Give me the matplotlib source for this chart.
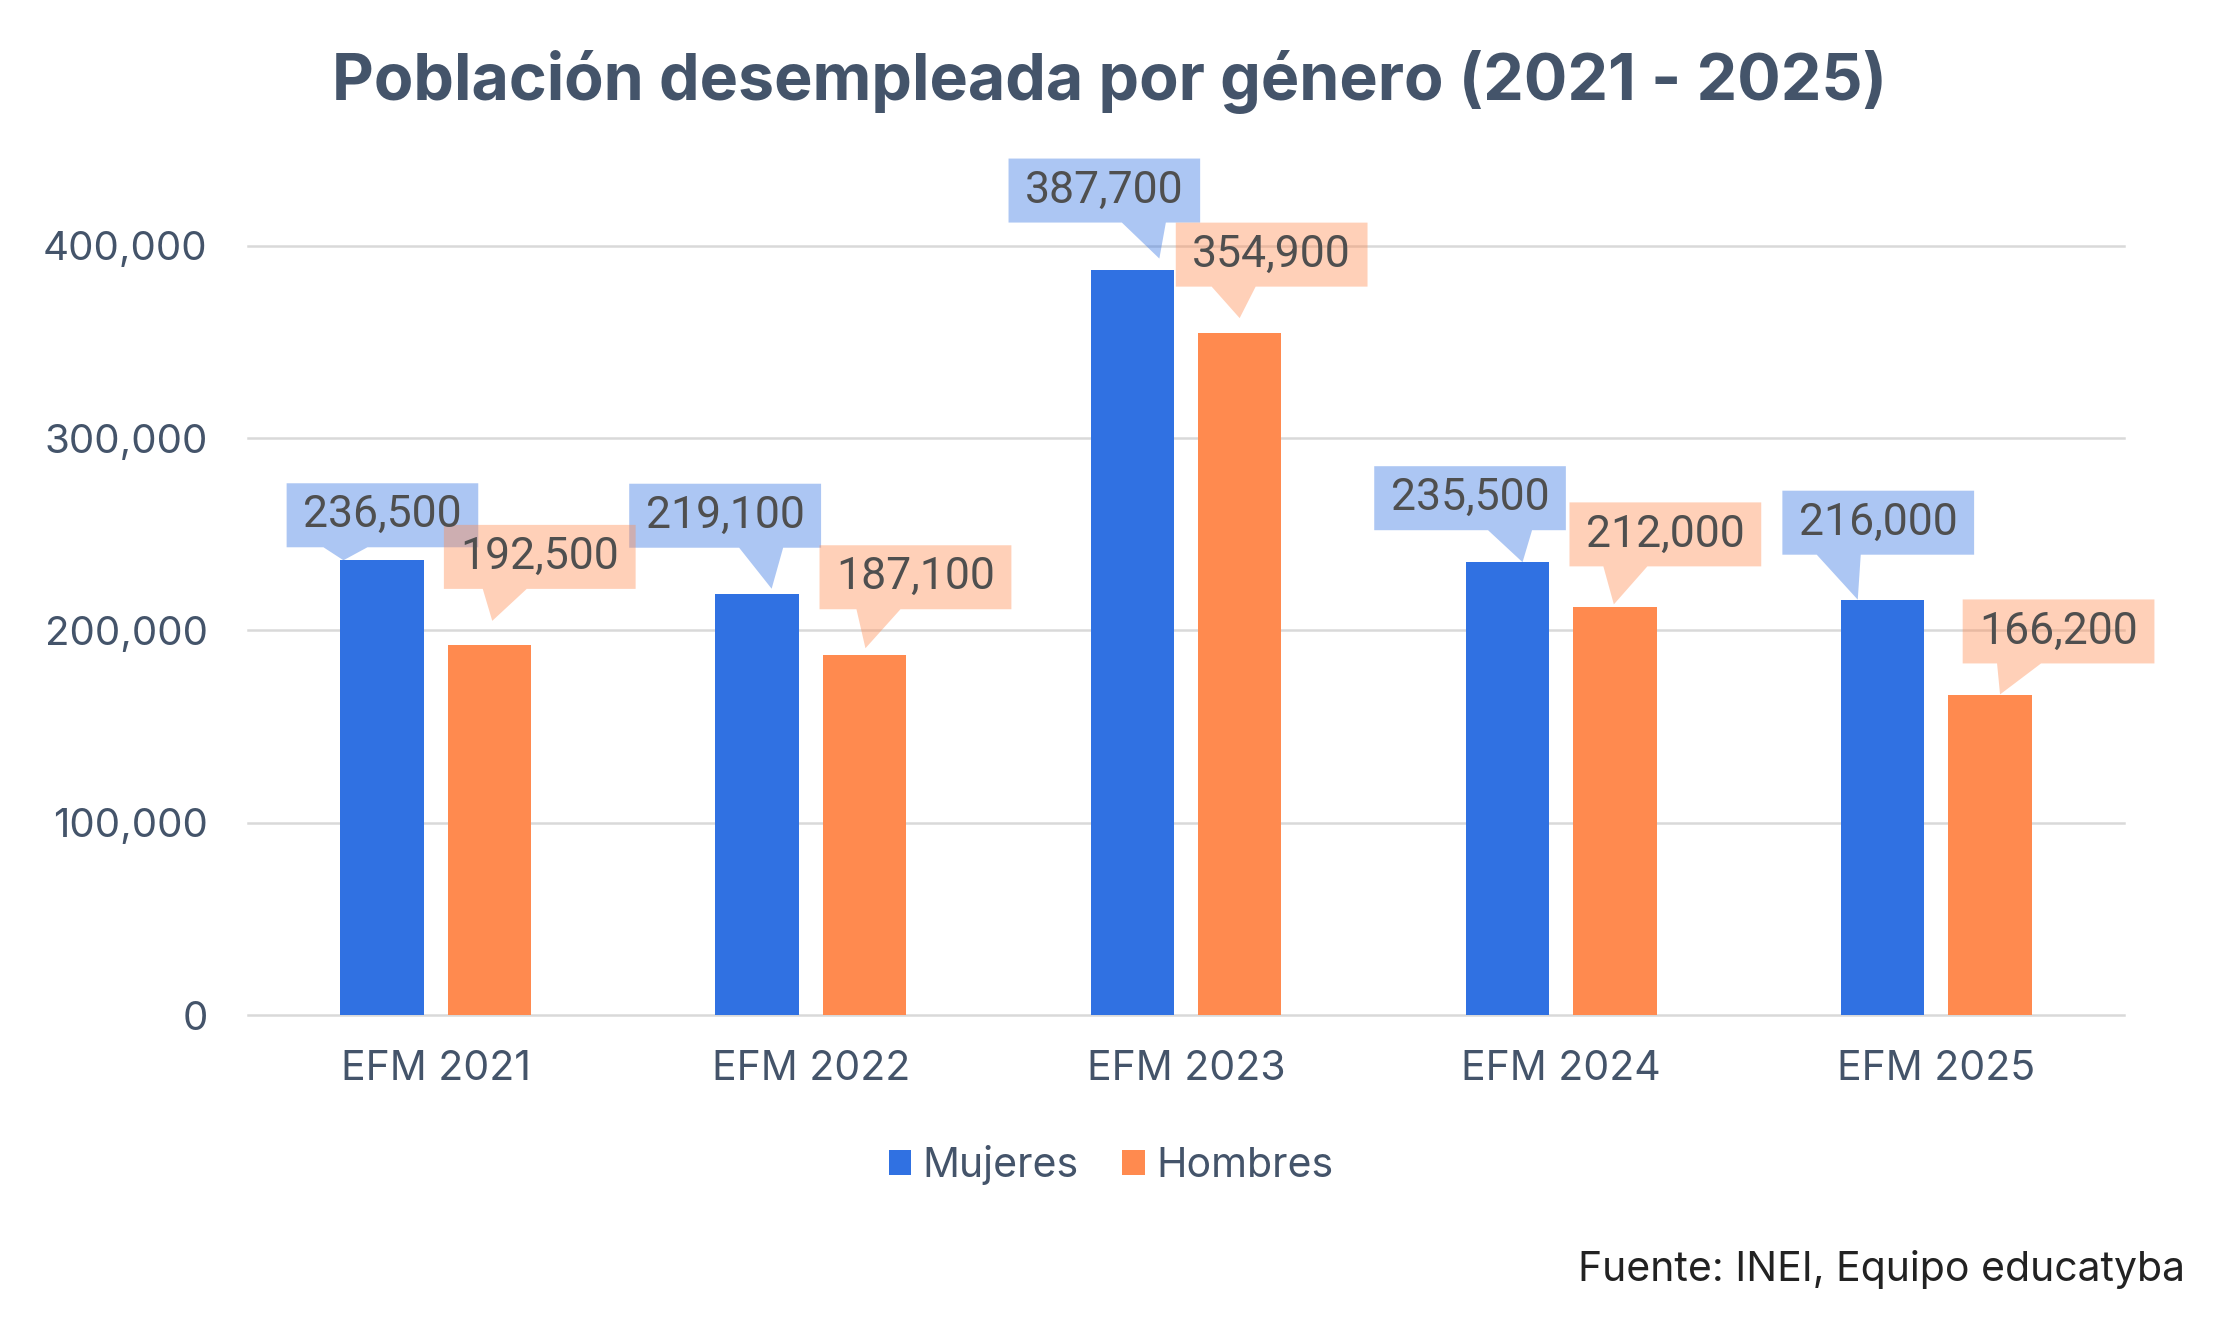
import numpy as np
import matplotlib
matplotlib.use("Agg")
import matplotlib.pyplot as plt
import matplotlib.transforms as mtransforms
from matplotlib.patches import Polygon
from matplotlib.ticker import FuncFormatter

# Data
categories = ["EFM 2021", "EFM 2022", "EFM 2023", "EFM 2024", "EFM 2025"]
series_names = ["Mujeres", "Hombres"]
mujeres = [236500, 219100, 387700, 235500, 216000]
hombres = [192500, 187100, 354900, 212000, 166200]
yticks = [0, 100000, 200000, 300000, 400000]

title = "Población desempleada por género (2021 - 2025)"
source = "Fuente: INEI, Equipo educatyba"

# Styles
BLUE = "#3071E2"
ORANGE = "#FF8A4F"
SLATE = "#44546A"
LABEL_TXT = "#4F4F4F"

# Callout placement (pixel offsets from the top centre of each bar)
callout = {
    "Mujeres": dict(box_dx=[0.5, -32, -28, -37.5, -4.5],
                    box_up=[45, 78, 79, 64, 77],
                    tip_dx=[-38.5, 14.5, 27, 15, -25],
                    tip_up=[0, 5, 11, 0, 0],
                    base_dx=[-37, 36, 39.5, 40, -39.5]),
    "Hombres": dict(box_dx=[50.5, 51, 32, 50.5, 68.5],
                    box_up=[88, 78, 78, 73, 64],
                    tip_dx=[3, 1, 0, -1, 10],
                    tip_up=[24, 7, 14.5, 3, 1],
                    base_dx=[-35, -37, -38, -40, -39.5]),
}
BOX_H = 64
BOX_PAD = 16.5
BASE_HALF = 22

W, H = 2222, 1320
fig = plt.figure(figsize=(W / 100, H / 100), dpi=100)
ax = fig.add_axes([248 / W, (H - 1015) / H, 1876 / W, 846 / H])

x = np.arange(len(categories))
bw = 0.222
off = 0.143
bars_m = ax.bar(x - off, mujeres, bw, color=BLUE, label=series_names[0], zorder=2)
bars_h = ax.bar(x + off, hombres, bw, color=ORANGE, label=series_names[1], zorder=2)

ax.set_xlim(-0.5, len(categories) - 0.5)
ax.set_ylim(0, 440000)
ax.set_yticks(yticks)
ax.yaxis.set_major_formatter(FuncFormatter(lambda v, p: f"{int(v):,}"))
ax.set_xticks(x)
ax.set_xticklabels(categories)
ax.tick_params(axis="y", length=0, pad=29, labelsize=29, labelcolor=SLATE)
ax.tick_params(axis="x", length=0, pad=25, labelsize=29.5, labelcolor=SLATE)
for lab in ax.get_xticklabels() + ax.get_yticklabels():
    lab.set_family("Inter")
for s in ax.spines.values():
    s.set_visible(False)
ax.yaxis.grid(True, color="#D9D9D9", lw=1.8)
for gl in ax.yaxis.get_gridlines():
    gl.set_clip_on(False)
ax.set_axisbelow(True)

renderer = fig.canvas.get_renderer()


def draw_callouts(xs, vals, color, lay):
    for i, (xc, v) in enumerate(zip(xs, vals)):
        anchor = mtransforms.Affine2D() + mtransforms.ScaledTranslation(xc, v, ax.transData)
        bx, by = lay["box_dx"][i], lay["box_up"][i]
        t = ax.text(0, 0, f"{v:,}", transform=mtransforms.Affine2D().translate(bx, by)
                    + mtransforms.ScaledTranslation(xc, v, ax.transData),
                    ha="center", va="center", fontsize=32, family="Roboto",
                    color=LABEL_TXT, zorder=5, clip_on=False)
        tw = t.get_window_extent(renderer).width
        half = tw / 2 + BOX_PAD
        left, right = bx - half, bx + half
        bot, top = by - BOX_H / 2, by + BOX_H / 2
        bc = bx + lay["base_dx"][i]
        tip = (lay["tip_dx"][i], lay["tip_up"][i])
        verts = [(left, top), (right, top), (right, bot), (bc + BASE_HALF, bot),
                 tip, (bc - BASE_HALF, bot), (left, bot)]
        poly = Polygon(verts, closed=True, transform=anchor, facecolor=color,
                       edgecolor="none", alpha=0.4, zorder=3, clip_on=False)
        ax.add_patch(poly)


draw_callouts(x - off, mujeres, BLUE, callout["Mujeres"])
draw_callouts(x + off, hombres, ORANGE, callout["Hombres"])

fig.text(0.4995, (H - 100) / H, title, ha="center", va="baseline", fontsize=46.5,
         family="Inter", weight="bold", color=SLATE)

leg = fig.legend(handles=[bars_m, bars_h], loc="center", bbox_to_anchor=(0.5, (H - 1165) / H),
                 ncol=2, frameon=False, prop={"family": "Inter", "size": 29.5},
                 handlelength=0.55, handleheight=0.55, handletextpad=0.28,
                 columnspacing=1.05)
for t in leg.get_texts():
    t.set_color(SLATE)

fig.text(2185 / W, (H - 1281) / H, source, ha="right", va="baseline", fontsize=29.5,
         family="Inter", color="#222222")

fig.savefig("out.png", dpi=100, facecolor="white")
